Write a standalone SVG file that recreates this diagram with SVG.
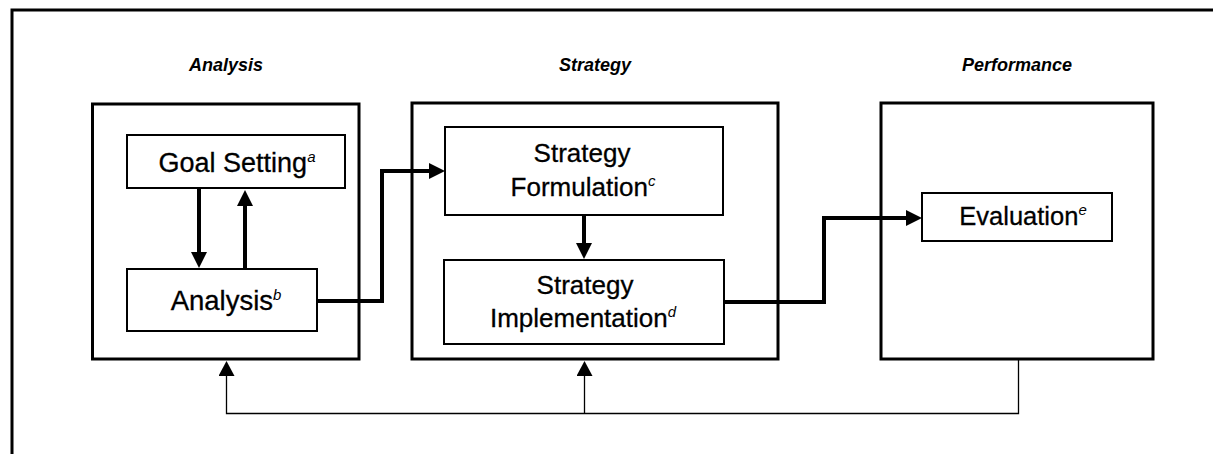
<svg xmlns="http://www.w3.org/2000/svg" width="1213" height="454" viewBox="0 0 1213 454">
  <style>
    .frame { fill: none; stroke: #000; stroke-width: 3; }
    .panel { fill: #fff; stroke: #000; stroke-width: 3; }
    .box { fill: #fff; stroke: #000; stroke-width: 2; }
    .title { font-family: "Liberation Sans", Arial, sans-serif; font-size: 18px; font-weight: bold; font-style: italic; text-anchor: middle; fill: #000; }
    .label { font-family: "Liberation Sans", Arial, sans-serif; font-size: 26px; text-anchor: middle; fill: #000; stroke: #000; stroke-width: 0.3; }
    .sup { font-size: 15px; font-style: italic; stroke-width: 0; }
    .flow { fill: none; stroke: #000; stroke-width: 4; }
    .feedback { fill: none; stroke: #000; stroke-width: 1.3; }
  </style>
  <defs>
    <marker id="head" markerUnits="userSpaceOnUse" markerWidth="16" markerHeight="16" refX="6" refY="8" orient="auto">
      <path d="M0,0 L16,8 L0,16 Z" fill="#000"/>
    </marker>
    <marker id="headThin" markerUnits="userSpaceOnUse" markerWidth="15" markerHeight="16" refX="1" refY="8" orient="auto">
      <path d="M0,0 L15,8 L0,16 Z" fill="#000"/>
    </marker>
  </defs>

  <rect width="1213" height="454" fill="#fff"/>
  <!-- outer frame, open towards the right and bottom edges -->
  <path class="frame" d="M12,460 V10 H1220"/>

  <!-- column titles -->
  <text class="title" x="226" y="71">Analysis</text>
  <text class="title" x="595" y="71">Strategy</text>
  <text class="title" x="1017" y="71">Performance</text>

  <!-- stage panels -->
  <g id="panel-analysis">
    <rect class="panel" x="92.5" y="104" width="266.5" height="255"/>
  </g>
  <g id="panel-strategy">
    <rect class="panel" x="412" y="103" width="366" height="256"/>
  </g>
  <g id="panel-performance">
    <rect class="panel" x="881" y="103" width="272" height="256"/>
  </g>

  <!-- process nodes -->
  <g id="goal-setting">
    <rect class="box" x="127" y="135" width="218" height="53"/>
    <text class="label" x="237" y="172" style="font-size:27px">Goal Setting<tspan class="sup" dy="-10">a</tspan></text>
  </g>
  <g id="analysis">
    <rect class="box" x="127" y="269" width="190" height="62"/>
    <text class="label" x="226" y="310" style="font-size:27.5px">Analysis<tspan class="sup" dy="-10">b</tspan></text>
  </g>
  <g id="strategy-formulation">
    <rect class="box" x="445" y="127" width="278" height="88"/>
    <text class="label" x="582" y="162">Strategy</text>
    <text class="label" x="583" y="196">Formulation<tspan class="sup" dy="-10">c</tspan></text>
  </g>
  <g id="strategy-implementation">
    <rect class="box" x="444" y="260" width="280" height="84"/>
    <text class="label" x="585" y="294">Strategy</text>
    <text class="label" x="583" y="327">Implementation<tspan class="sup" dy="-10">d</tspan></text>
  </g>
  <g id="evaluation">
    <rect class="box" x="922" y="193" width="190" height="48"/>
    <text class="label" x="1023" y="225" style="font-size:25.5px">Evaluation<tspan class="sup" dy="-10">e</tspan></text>
  </g>

  <!-- connectors -->
  <g id="connectors">
    <path class="flow" d="M199,188 V258" marker-end="url(#head)"/>
    <path class="flow" d="M245,269 V200" marker-end="url(#head)"/>
    <path class="flow" d="M317,301 H382 V171 H435" marker-end="url(#head)"/>
    <path class="flow" d="M584,215 V249" marker-end="url(#head)"/>
    <path class="flow" d="M724,302 H824 V218 H912" marker-end="url(#head)"/>
    <path class="feedback" d="M1018.5,359 V413.5 H226.5 V375" marker-end="url(#headThin)"/>
    <path class="feedback" d="M584.5,413.5 V375" marker-end="url(#headThin)"/>
  </g>
</svg>
